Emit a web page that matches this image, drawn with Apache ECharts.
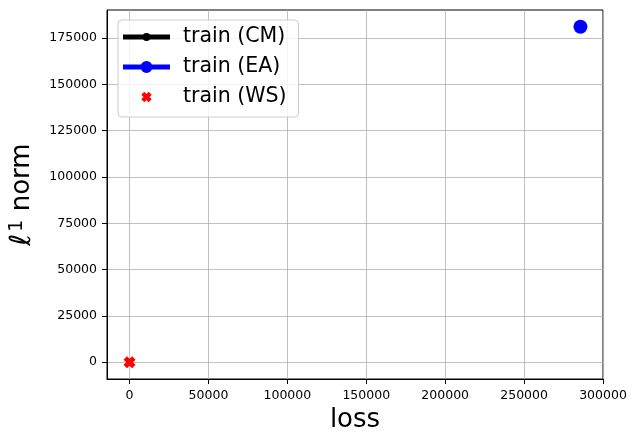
<!DOCTYPE html>
<html>
<head>
<meta charset="utf-8">
<script src="https://cdn.jsdelivr.net/npm/echarts@6/dist/echarts.min.js"></script>
<style>html,body{margin:0;padding:0;background:#fff}#c{width:638px;height:446px}</style>
</head>
<body>
<div id="c"></div>
<script>
// ---- data ----
const seriesNames = ['train (CM)', 'train (EA)', 'train (WS)'];
const cmLoss = [285714];
const cmNorm = [181040];
const eaLoss = [285714];
const eaNorm = [181040];
const wsLoss = [0];
const wsNorm = [0];
const xTicks = [0, 50000, 100000, 150000, 200000, 250000, 300000];
const yTicks = [0, 25000, 50000, 75000, 100000, 125000, 150000, 175000];
const xRange = [-14286, 300000];
const yRange = [-9052, 190092];

function pairs(xs, ys) { return xs.map((x, i) => [x, ys[i]]); }

// filled "X" marker polygon centred at (cx,cy)
function xPoly(cx, cy, s, t) {
  const p = [[-s,-s+t],[-s+t,-s],[0,-t],[s-t,-s],[s,-s+t],[t,0],[s,s-t],[s-t,s],[0,t],[-s+t,s],[-s,s-t],[-t,0]];
  return 'M' + p.map(q => (cx+q[0]).toFixed(2) + ',' + (cy+q[1]).toFixed(2)).join(' L') + ' Z ';
}
const W = 55, H = 14;
const corners = 'M0,0 L0.01,0 L0.01,0.01 L0,0.01 Z M' + W + ',' + H + ' L' + (W-0.01) + ',' + H + ' L' + (W-0.01) + ',' + (H-0.01) + ' L' + W + ',' + (H-0.01) + ' Z ';
const lineRect = 'M0,4.5 L47,4.5 L47,9.5 L0,9.5 Z ';
function circ(cx, cy, r) { return 'M' + (cx-r) + ',' + cy + ' A' + r + ',' + r + ' 0 1,1 ' + (cx+r) + ',' + cy + ' A' + r + ',' + r + ' 0 1,1 ' + (cx-r) + ',' + cy + ' Z '; }
const iconCM = 'path://' + corners + lineRect + circ(23.5, 7, 4);
const iconEA = 'path://' + corners + lineRect + circ(23.5, 7, 6);
const iconWS = 'path://' + corners + xPoly(23.5, 7, 5.2, 3.0);
const markerWS = 'path://' + xPoly(6, 6, 6, 3.4);

const font = 'DejaVu Sans';
const fmt = v => String(v);
const chart = echarts.init(document.getElementById('c'), null, { renderer: 'canvas' });
chart.setOption({
  animation: false,
  backgroundColor: '#ffffff',
  textStyle: { fontFamily: font },
  grid: { left: 107, right: 35, top: 10, bottom: 67, show: true, borderColor: '#000', borderWidth: 1, backgroundColor: 'transparent', containLabel: false },
  xAxis: {
    type: 'value', min: xRange[0], max: xRange[1],
    name: 'loss', nameLocation: 'middle', nameGap: 26,
    nameTextStyle: { fontFamily: font, fontSize: 26, color: '#000' },
    axisLine: { show: true, onZero: false, lineStyle: { color: '#000', width: 1 } },
    axisTick: { show: true, inside: false, length: 5, lineStyle: { color: '#000' }, customValues: xTicks },
    axisLabel: { show: true, margin: 10, fontFamily: font, fontSize: 12.5, color: '#000', customValues: xTicks, formatter: fmt },
    splitLine: { show: true, lineStyle: { color: '#b0b0b0', width: 0.8 } }
  },
  yAxis: {
    type: 'value', min: yRange[0], max: yRange[1],
    name: '{a|ℓ}{b|1}{c| norm}', nameLocation: 'middle', nameGap: 70, nameRotate: 90,
    nameTextStyle: {
      fontFamily: font, fontSize: 26, color: '#000',
      rich: {
        a: { fontFamily: font, fontSize: 29, fontStyle: 'italic', color: '#000' },
        b: { fontFamily: font, fontSize: 19, color: '#000', verticalAlign: 'top', padding: [0, 0, 0, 2] },
        c: { fontFamily: font, fontSize: 26, color: '#000' }
      }
    },
    axisLine: { show: true, onZero: false, lineStyle: { color: '#000', width: 1 } },
    axisTick: { show: true, inside: false, length: 5, lineStyle: { color: '#000' }, customValues: yTicks },
    axisLabel: { show: true, margin: 10, fontFamily: font, fontSize: 12.5, color: '#000', customValues: yTicks, formatter: fmt },
    splitLine: { show: true, lineStyle: { color: '#b0b0b0', width: 0.8 } }
  },
  legend: {
    orient: 'vertical', left: 118, top: 20,
    itemWidth: W, itemHeight: H, itemGap: 8,
    padding: [6, 12, 9, 5],
    backgroundColor: 'rgba(255,255,255,0.8)', borderColor: '#cccccc', borderWidth: 1, borderRadius: 4,
    textStyle: { fontFamily: font, fontSize: 20.5, color: '#000', lineHeight: 22 },
    data: [
      { name: seriesNames[0], icon: iconCM },
      { name: seriesNames[1], icon: iconEA },
      { name: seriesNames[2], icon: iconWS }
    ]
  },
  series: [
    { name: seriesNames[0], type: 'scatter', data: pairs(cmLoss, cmNorm), symbol: 'circle', symbolSize: 8, itemStyle: { color: '#000000', opacity: 1 }, z: 2 },
    { name: seriesNames[1], type: 'scatter', data: pairs(eaLoss, eaNorm), symbol: 'circle', symbolSize: 14, itemStyle: { color: '#0000ff', opacity: 1 }, z: 3 },
    { name: seriesNames[2], type: 'scatter', data: pairs(wsLoss, wsNorm), symbol: markerWS, symbolSize: 12, itemStyle: { color: '#ff0000', opacity: 1 }, z: 4 }
  ]
});
</script>
</body>
</html>
